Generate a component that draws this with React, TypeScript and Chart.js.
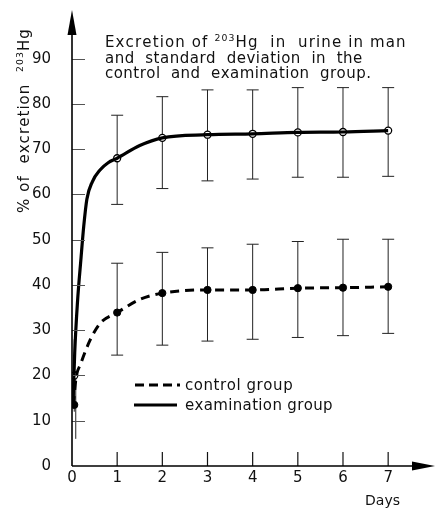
import React, { useEffect, useRef } from "react";
import { Chart, registerables } from "chart.js";
Chart.register(...registerables);

// ---- data ----
const days = [1, 2, 3, 4, 5, 6, 7];
const examMean = [68, 72.5, 73.2, 73.4, 73.7, 73.8, 74.1];
const examLow = [57.8, 61.3, 63, 63.4, 63.8, 63.8, 64];
const examHigh = [77.5, 81.6, 83.1, 83.1, 83.6, 83.6, 83.6];
const controlMean = [33.9, 38.2, 38.9, 38.9, 39.3, 39.4, 39.6];
const controlLow = [24.5, 26.7, 27.6, 28.0, 28.4, 28.8, 29.3];
const controlHigh = [44.8, 47.2, 48.2, 49.0, 49.6, 50.1, 50.1];

// early measurement (a few hours after dose)
const earlyDays = [0.05];
const examEarlyMean = [20];
const examEarlyLow = [12];
const examEarlyHigh = [28];
const controlEarlyMean = [13.5];
const controlEarlyLow = [6];
const controlEarlyHigh = [21];

// fitted curves as drawn in the figure
const examCurveX = [0.02, 0.06, 0.12, 0.2, 0.26, 0.33, 0.45, 0.62, 0.8, 1, 1.5, 2, 3, 4, 5, 6, 7];
const examCurveY = [13, 25, 36, 46, 53, 59, 62.8, 65.4, 67, 68, 70.8, 72.5, 73.2, 73.4, 73.7, 73.8, 74.1];
const controlCurveX = [0.03, 0.09, 0.19, 0.4, 0.63, 1, 1.5, 2, 3, 4, 5, 6, 7];
const controlCurveY = [13.5, 19.5, 22.5, 27.8, 31.6, 33.9, 36.8, 38.2, 38.9, 38.9, 39.3, 39.4, 39.6];

const yTicks = [0, 10, 20, 30, 40, 50, 60, 70, 80, 90];
const xTicks = [0, 1, 2, 3, 4, 5, 6, 7];

const legendLabels = ["control group", "examination group"];
const titleLines = [
  [{ t: "Excretion of " }, { t: "203", sup: true }, { t: "Hg  in  urine in man" }],
  [{ t: "and  standard  deviation  in  the" }],
  [{ t: "control  and  examination  group." }],
];
const yTitle = [{ t: "% of  excretion  " }, { t: "203", sup: true }, { t: "Hg" }];
const xTitle = "Days";

const FONT = "'DejaVu Sans', 'Liberation Sans', sans-serif";
const INK = "#111";

type Seg = { t: string; sup?: boolean };

function drawSegs(ctx: CanvasRenderingContext2D, segs: Seg[], x: number, y: number, width: number, size: number) {
  let natural = 0;
  let chars = 0;
  (ctx as any).letterSpacing = "0px";
  for (const s of segs) {
    ctx.font = `${s.sup ? size * 0.62 : size}px ${FONT}`;
    natural += ctx.measureText(s.t).width;
    chars += s.t.length;
  }
  const sp = (width - natural) / Math.max(1, chars - 1);
  let cx = x;
  ctx.textBaseline = "alphabetic";
  ctx.textAlign = "left";
  for (const s of segs) {
    ctx.font = `${s.sup ? size * 0.62 : size}px ${FONT}`;
    for (const ch of s.t) {
      ctx.fillText(ch, cx, s.sup ? y - size * 0.42 : y);
      cx += ctx.measureText(ch).width + sp;
    }
  }
}

const decorPlugin = {
  id: "decor",
  beforeDatasetsDraw(chart: any) {
    const ctx = chart.ctx as CanvasRenderingContext2D;
    const xs = chart.scales.x;
    const ys = chart.scales.y;
    ctx.save();
    ctx.strokeStyle = "#222";
    ctx.lineWidth = 1;
    const bar = (xv: number, lo: number, hi: number) => {
      const px = xs.getPixelForValue(xv);
      const pl = ys.getPixelForValue(lo);
      const ph = ys.getPixelForValue(hi);
      ctx.beginPath();
      ctx.moveTo(px, pl);
      ctx.lineTo(px, ph);
      ctx.moveTo(px - 6, pl);
      ctx.lineTo(px + 6, pl);
      ctx.moveTo(px - 6, ph);
      ctx.lineTo(px + 6, ph);
      ctx.stroke();
    };
    days.forEach((d, i) => {
      bar(d, examLow[i], examHigh[i]);
      bar(d, controlLow[i], controlHigh[i]);
    });
    earlyDays.forEach((d, i) => {
      const px = xs.getPixelForValue(d);
      ctx.beginPath();
      ctx.moveTo(px, ys.getPixelForValue(examEarlyLow[i]));
      ctx.lineTo(px, ys.getPixelForValue(examEarlyHigh[i]));
      ctx.moveTo(px + 1.5, ys.getPixelForValue(controlEarlyLow[i]));
      ctx.lineTo(px + 1.5, ys.getPixelForValue(controlEarlyHigh[i]));
      ctx.stroke();
    });
    ctx.restore();
  },
  afterDraw(chart: any) {
    const ctx = chart.ctx as CanvasRenderingContext2D;
    const xs = chart.scales.x;
    const ys = chart.scales.y;
    const x0 = xs.getPixelForValue(0);
    const y0 = ys.getPixelForValue(0);
    ctx.save();
    ctx.strokeStyle = "#555";
    ctx.lineWidth = 1;
    yTicks.forEach((v) => {
      if (v === 0) return;
      const py = Math.round(ys.getPixelForValue(v)) + 0.5;
      ctx.beginPath();
      ctx.moveTo(x0, py);
      ctx.lineTo(x0 + 13, py);
      ctx.stroke();
    });
    ctx.strokeStyle = "#111";
    ctx.lineWidth = 1.2;
    xTicks.forEach((v) => {
      if (v === 0) return;
      const px = xs.getPixelForValue(v);
      ctx.beginPath();
      ctx.moveTo(px, y0);
      ctx.lineTo(px, y0 - 14);
      ctx.stroke();
    });
    ctx.strokeStyle = "#000";
    ctx.lineWidth = 1.6;
    ctx.beginPath();
    ctx.moveTo(x0, y0);
    ctx.lineTo(x0, 30);
    ctx.moveTo(x0, y0);
    ctx.lineTo(414, y0);
    ctx.stroke();
    ctx.fillStyle = "#000";
    ctx.beginPath();
    ctx.moveTo(x0, 10);
    ctx.lineTo(x0 - 4.5, 35);
    ctx.lineTo(x0 + 4.5, 35);
    ctx.closePath();
    ctx.fill();
    ctx.beginPath();
    ctx.moveTo(435, y0);
    ctx.lineTo(412, y0 - 4.5);
    ctx.lineTo(412, y0 + 4.5);
    ctx.closePath();
    ctx.fill();

    ctx.fillStyle = INK;
    drawSegs(ctx, titleLines[0], 105, 47, 300, 15);
    drawSegs(ctx, titleLines[1], 105, 62.5, 257, 15);
    drawSegs(ctx, titleLines[2], 105, 77.5, 265, 15);
    ctx.save();
    ctx.translate(29, 213);
    ctx.rotate(-Math.PI / 2);
    drawSegs(ctx, yTitle, 0, 0, 183, 15);
    ctx.restore();
    drawSegs(ctx, [{ t: xTitle }], 365, 505, 35, 14);

    ctx.strokeStyle = "#000";
    ctx.lineWidth = 3;
    ctx.setLineDash([9, 5]);
    ctx.beginPath();
    ctx.moveTo(135, 385);
    ctx.lineTo(180, 385);
    ctx.stroke();
    ctx.setLineDash([]);
    ctx.beginPath();
    ctx.moveTo(134, 405);
    ctx.lineTo(177, 405);
    ctx.stroke();
    drawSegs(ctx, [{ t: legendLabels[0] }], 185, 390, 107, 15);
    drawSegs(ctx, [{ t: legendLabels[1] }], 185, 410, 147, 15);
    ctx.restore();
  },
};

export default function App() {
  const ref = useRef<HTMLCanvasElement | null>(null);
  useEffect(() => {
    document.body.style.margin = "0";
    const canvas = ref.current!;
    const toXY = (xs: number[], ys: number[]) => xs.map((x, i) => ({ x, y: ys[i] }));
    const chart = new Chart(canvas, {
      type: "scatter",
      data: {
        datasets: [
          {
            data: toXY(examCurveX, examCurveY),
            showLine: true,
            borderColor: "#000",
            borderWidth: 3.2,
            pointRadius: 0,
            cubicInterpolationMode: "monotone",
          } as any,
          {
            data: toXY(controlCurveX, controlCurveY),
            showLine: true,
            borderColor: "#000",
            borderWidth: 3,
            borderDash: [9, 6],
            pointRadius: 0,
            cubicInterpolationMode: "monotone",
          } as any,
          {
            data: toXY([...earlyDays, ...days], [...examEarlyMean, ...examMean]),
            pointRadius: 3.5,
            pointBackgroundColor: "#fff",
            pointBorderColor: "#000",
            pointBorderWidth: 1.3,
          },
          {
            data: toXY([...earlyDays, ...days], [...controlEarlyMean, ...controlMean]),
            pointRadius: 3.6,
            pointBackgroundColor: "#000",
            pointBorderColor: "#000",
            pointBorderWidth: 1,
          },
        ],
      },
      options: {
        animation: false,
        responsive: false,
        events: [],
        layout: { padding: { top: 31.5, right: 22, bottom: 0, left: 0 } },
        plugins: { legend: { display: false }, tooltip: { enabled: false } },
        scales: {
          x: {
            type: "linear",
            min: 0,
            max: 7.55,
            grid: { display: false },
            border: { display: false },
            afterFit: (s: any) => {
              s.height = 42;
            },
            afterBuildTicks: (s: any) => {
              s.ticks = xTicks.map((v) => ({ value: v }));
            },
            ticks: {
              padding: -4.5,
              color: INK,
              font: { family: FONT, size: 15 },
              maxRotation: 0,
            },
          },
          y: {
            type: "linear",
            min: 0,
            max: 96,
            grid: { display: false },
            border: { display: false },
            afterFit: (s: any) => {
              s.width = 72;
            },
            afterBuildTicks: (s: any) => {
              s.ticks = yTicks.map((v) => ({ value: v }));
            },
            ticks: {
              padding: 13,
              color: INK,
              font: { family: FONT, size: 15 },
            },
          },
        },
      },
      plugins: [decorPlugin],
    });
    return () => chart.destroy();
  }, []);
  return <canvas ref={ref} width={435} height={508} style={{ display: "block" }} />;
}
